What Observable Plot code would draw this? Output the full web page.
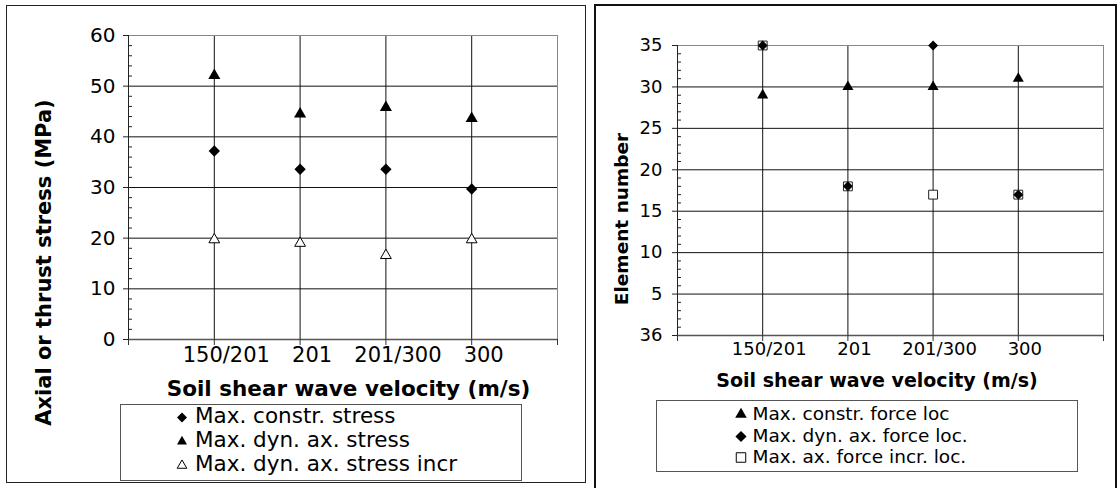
<!DOCTYPE html>
<html>
<head>
<meta charset="utf-8">
<script src="https://cdn.jsdelivr.net/npm/d3@7"></script>
<script src="https://cdn.jsdelivr.net/npm/@observablehq/plot@0.6"></script>
<style>
  html, body { margin: 0; padding: 0; background: #fff; }
  #fig { position: relative; width: 1120px; height: 488px; overflow: hidden; font-family: "DejaVu Sans", sans-serif; }
  #fig .box { position: absolute; box-sizing: border-box; }
  #fig svg { position: absolute; top: 0; }
</style>
</head>
<body>
<div id="fig">
  <div class="box" style="left:6px;top:5px;width:580px;height:478px;border:1px solid #222;"></div>
  <div class="box" style="left:594px;top:4px;width:523px;height:490px;border:2px solid #111;"></div>
</div>
<script>
// Soil shear wave velocity cases (m/s)
const categories = ["150/201", "201", "201/300", "300"];

// Left chart: stresses (MPa)
const maxConstrStress = [37.2, 33.6, 33.6, 29.7];
const maxDynAxStress = [52.1, 44.5, 45.8, 43.6];
const maxDynAxStressIncr = [19.7, 19.0, 16.6, 19.7];
const stressTicks = [0, 10, 20, 30, 40, 50, 60];

// Right chart: element numbers of the maxima
const maxConstrForceLoc = [29, 30, 30, 31];
const maxDynAxForceLoc = [35, 18, 35, 17];
const maxAxForceIncrLoc = [35, 18, 17, 17];
const elementTicks = [0, 5, 10, 15, 20, 25, 30, 35];
const elementTickLabels = ["36", "5", "10", "15", "20", "25", "30", "35"];

// Legend entries
const leftLegend = ["Max. constr. stress", "Max. dyn. ax. stress", "Max. dyn. ax. stress incr"];
const rightLegend = ["Max. constr. force loc", "Max. dyn. ax. force loc.", "Max. ax. force incr. loc."];

const rowsOf = values => categories.map((category, i) => ({category, pos: i + 1, value: values[i]}));
const catPositions = categories.map((c, i) => i + 1);
const axisEnds = [0, ...catPositions, categories.length + 1];
const catLabel = d => categories[d - 1];

const fig = document.getElementById("fig");
const font = "DejaVu Sans";
const gridColor = "#111";

// ---------- left chart ----------
const stressMinor = d3.range(0, 61, 2).filter(d => d % 10 !== 0);
const left = Plot.plot({
  width: 590,
  height: 488,
  marginLeft: 128,
  marginRight: 33,
  marginTop: 35,
  marginBottom: 149,
  x: {domain: [0, categories.length + 1]},
  y: {domain: [0, 60]},
  style: {fontFamily: font, background: "transparent", color: "black", overflow: "visible"},
  marks: [
    Plot.gridY(stressTicks.slice(1, -1), {stroke: gridColor, strokeOpacity: 1}),
    Plot.gridX(catPositions, {stroke: gridColor, strokeOpacity: 1}),
    Plot.frame({stroke: "#888"}),
    Plot.ruleY([0], {stroke: "#555", strokeWidth: 1.5}),
    Plot.ruleX([0], {stroke: "#222"}),
    Plot.axisY(stressTicks, {tickSize: 5, tickPadding: 8, fontSize: 20, label: null, stroke: "#222"}),
    Plot.axisY(stressMinor, {tickSize: 4, dx: 4, fill: "none", stroke: "#222"}),
    Plot.axisX(axisEnds, {tickSize: 6, fill: "none", stroke: "#333"}),
    Plot.axisX(catPositions, {tickSize: 0, tickPadding: 8, dx: 12, fontSize: 21, tickFormat: catLabel, label: null}),
    Plot.dot(rowsOf(maxDynAxStressIncr), {x: "pos", y: "value", symbol: "triangle", r: 4, fill: "white", stroke: "black", strokeWidth: 1}),
    Plot.dot(rowsOf(maxDynAxStress), {x: "pos", y: "value", symbol: "triangle", r: 4.5, fill: "black"}),
    Plot.dot(rowsOf(maxConstrStress), {x: "pos", y: "value", symbol: "diamond2", r: 5.1, fill: "black"})
  ]
});
left.style.left = "0px";
fig.appendChild(left);

// ---------- right chart ----------
const elementMinor = d3.range(0, 36, 1).filter(d => d % 5 !== 0);
const right = Plot.plot({
  width: 530,
  height: 488,
  marginLeft: 87,
  marginRight: 17,
  marginTop: 45,
  marginBottom: 153,
  x: {domain: [0, categories.length + 1]},
  y: {domain: [0, 35]},
  style: {fontFamily: font, background: "transparent", color: "black", overflow: "visible"},
  marks: [
    Plot.gridY(elementTicks.slice(1, -1), {stroke: gridColor, strokeOpacity: 1}),
    Plot.gridX(catPositions, {stroke: gridColor, strokeOpacity: 1}),
    Plot.frame({stroke: "#888"}),
    Plot.ruleY([0], {stroke: "#555", strokeWidth: 1.5}),
    Plot.ruleX([0], {stroke: "#222"}),
    Plot.axisY(elementTicks, {tickSize: 5, tickPadding: 10, fontSize: 18, label: null, stroke: "#222",
      tickFormat: d => elementTickLabels[elementTicks.indexOf(d)]}),
    Plot.axisY(elementMinor, {tickSize: 4, dx: 4, fill: "none", stroke: "#222"}),
    Plot.axisX(axisEnds, {tickSize: 6, fill: "none", stroke: "#333"}),
    Plot.axisX(catPositions, {tickSize: 0, tickPadding: 7, dx: 6.5, fontSize: 18, tickFormat: catLabel, label: null}),
    Plot.dot(rowsOf(maxAxForceIncrLoc), {x: "pos", y: "value", symbol: "square", r: 5, fill: "white", stroke: "#222", strokeWidth: 1}),
    Plot.dot(rowsOf(maxConstrForceLoc), {x: "pos", y: "value", symbol: "triangle", r: 4.1, fill: "black"}),
    Plot.dot(rowsOf(maxDynAxForceLoc), {x: "pos", y: "value", symbol: "diamond2", r: 4.5, fill: "black"})
  ]
});
right.style.left = "590px";
fig.appendChild(right);

// ---------- titles and legends ----------
const over = d3.select(fig).append("svg")
  .attr("width", 1120).attr("height", 488)
  .style("left", "0px").style("pointer-events", "none")
  .attr("font-family", font).attr("fill", "black");

over.append("text").attr("x", 348.5).attr("y", 396).attr("text-anchor", "middle")
  .attr("font-weight", "bold").attr("font-size", 21.5).text("Soil shear wave velocity (m/s)");
over.append("text").attr("transform", "translate(51,262.5) rotate(-90)").attr("text-anchor", "middle")
  .attr("font-weight", "bold").attr("font-size", 21).text("Axial or thrust stress (MPa)");
over.append("text").attr("x", 877).attr("y", 387).attr("text-anchor", "middle")
  .attr("font-weight", "bold").attr("font-size", 19).text("Soil shear wave velocity (m/s)");
over.append("text").attr("transform", "translate(628,219) rotate(-90)").attr("text-anchor", "middle")
  .attr("font-weight", "bold").attr("font-size", 18.5).text("Element number");

function legend(box, entries, symbols, textX, symX, baselines, fontSize) {
  over.append("rect").attr("x", box[0]).attr("y", box[1]).attr("width", box[2]).attr("height", box[3])
    .attr("fill", "white").attr("stroke", "#555");
  entries.forEach((label, i) => {
    const s = symbols[i];
    over.append("path")
      .attr("transform", `translate(${symX},${baselines[i] - 5.5})`)
      .attr("d", d3.symbol(s.type, s.size)())
      .attr("fill", s.fill).attr("stroke", s.stroke || "none").attr("stroke-width", 1);
    over.append("text").attr("x", textX).attr("y", baselines[i])
      .attr("font-size", fontSize).text(label);
  });
}

legend([120.5, 404.5, 401, 76], leftLegend, [
  {type: d3.symbolDiamond2, size: 64, fill: "black"},
  {type: d3.symbolTriangle, size: 43, fill: "black"},
  {type: d3.symbolTriangle, size: 40, fill: "white", stroke: "black"}
], 195, 182, [423, 447, 471], 21.5);

legend([656.5, 400.5, 421, 71], rightLegend, [
  {type: d3.symbolTriangle, size: 58, fill: "black"},
  {type: d3.symbolDiamond2, size: 80, fill: "black"},
  {type: d3.symbolSquare, size: 90, fill: "white", stroke: "black"}
], 752.5, 741, [420, 442, 463], 18.5);
</script>
</body>
</html>
